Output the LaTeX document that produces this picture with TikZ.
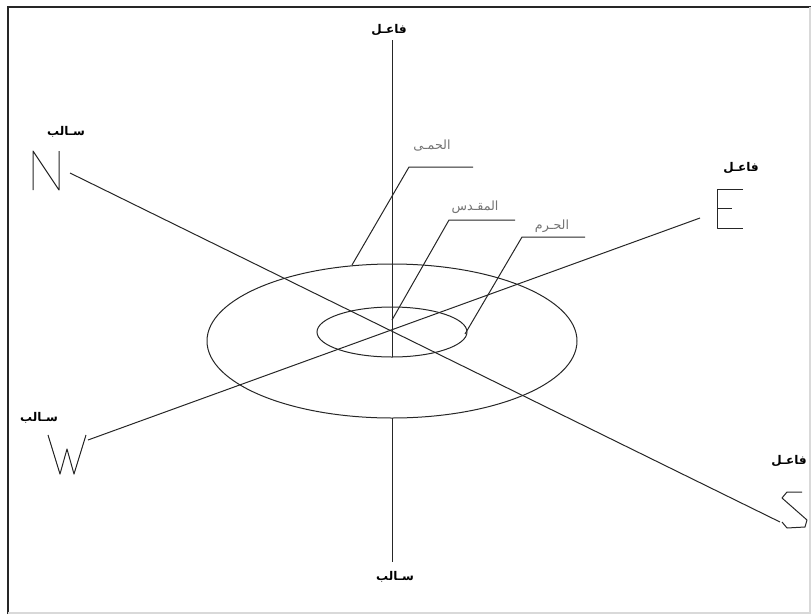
\documentclass[tikz,border=0pt]{standalone}
\usepackage{fontspec}
\newfontfamily\arabicfont[Script=Arabic]{DejaVu Sans}
\TeXXeTstate=1
\begin{document}
\begin{tikzpicture}[x=0.75pt,y=-0.75pt,
  ln/.style={line width=0.75pt,black!85},
  pole/.style={font=\arabicfont\bfseries\fontsize{9}{11}\selectfont,inner sep=0pt,text=black},
  zone/.style={font=\arabicfont\fontsize{9.5}{11}\selectfont,inner sep=0pt,text=black!55},
  letter/.style={line width=0.75pt,black!85,line join=round}]
\useasboundingbox (0,0) rectangle (811,615);
% frame
\draw[line width=1.3pt,black!85] (8,614) -- (8,7) -- (811,7);
\draw[line width=1pt,black!15] (8,613) -- (810,613) -- (810,7);
% coordinates
\coordinate (C) at (392,332);
\coordinate (Ntop) at (392,40);
\coordinate (Ibot) at (392,357);
\coordinate (Obot) at (392,418);
\coordinate (Send) at (392,562);
\coordinate (Nend) at (70,173);
\coordinate (Sdir) at (780,522);
\coordinate (Wend) at (88,440);
\coordinate (Eend) at (700,218);
% ellipses
\draw[ln] (392,341) ellipse [x radius=185, y radius=77];
\draw[ln] (C) ellipse [x radius=75, y radius=25];
% axes
\draw[ln] (Ntop) -- (Ibot);
\draw[ln] (Obot) -- (Send);
\draw[ln] (Nend) -- (Sdir);
\draw[ln] (Wend) -- (Eend);
% letters
\draw[letter] (33,190) -- (33,151) -- (59,190) -- (59,151);
\draw[letter] (743,189) -- (717,189) -- (717,228) -- (743,228) (717,208) -- (732,208);
\draw[letter] (48,435) -- (60,474) -- (67,449) -- (74,474) -- (86,435);
\draw[letter] (802,492) -- (787,492) -- (782,498) -- (807,520) -- (805,527) -- (787,528) -- (782,522);
% pole labels
\node[pole] (t1) at (389,30) {\beginR فاعـل\endR};
\node[pole] (t2) at (66,132) {\beginR سـالب\endR};
\node[pole] (t3) at (741,168) {\beginR فاعـل\endR};
\node[pole] (t4) at (39,418) {\beginR سـالب\endR};
\node[pole] (t5) at (789,461) {\beginR فاعـل\endR};
\node[pole] (t6) at (395,577) {\beginR سـالب\endR};
% zone labels with leaders
\node[zone] (z1) at (432,146) {\beginR الحمـى\endR};
\node[zone] (z2) at (475,207) {\beginR المقـدس\endR};
\node[zone] (z3) at (552,226) {\beginR الحـرم\endR};
\coordinate (l1a) at (473,167); \coordinate (l1b) at (409,167); \coordinate (l1c) at (352,265);
\coordinate (l2a) at (515,220); \coordinate (l2b) at (449,220); \coordinate (l2c) at (392,320);
\coordinate (l3a) at (585,237); \coordinate (l3b) at (522,237); \coordinate (l3c) at (465,334);
\draw[ln] (l1a) -- (l1b) -- (l1c);
\draw[ln] (l2a) -- (l2b) -- (l2c);
\draw[ln] (l3a) -- (l3b) -- (l3c);
\end{tikzpicture}
\end{document}
